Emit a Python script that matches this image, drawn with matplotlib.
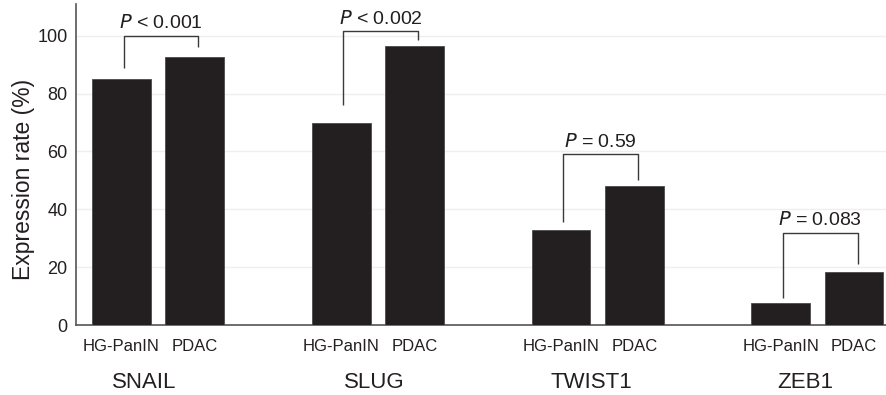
import matplotlib
matplotlib.use("Agg")
import matplotlib.pyplot as plt
import matplotlib.transforms as mtransforms

plt.rcParams['font.family'] = ['Liberation Sans', 'DejaVu Sans']

genes = ["SNAIL", "SLUG", "TWIST1", "ZEB1"]
groups = ["HG-PanIN", "PDAC"]
hg_values = [85, 70, 33, 7.5]
pdac_values = [92.5, 96.5, 48, 18.5]
p_labels = ["< 0.001", "< 0.002", "= 0.59", "= 0.083"]
bracket_tops = [100, 101.5, 59, 32]
bracket_left_bottoms = [89, 76, 35.5, 9.5]
bracket_right_bottoms = [96, 98.5, 50, 21]

# layout: horizontal offsets of the gene labels from their group centres (data units)
gene_label_shift = [-0.19, -0.05, -0.09, -0.17]

dark = "#231f20"
fig = plt.figure(figsize=(8.87, 3.95), dpi=100)
ax = fig.add_axes([0.0857, 0.177, 0.9143, 0.813])

spacing = 3.0
width = 0.8
hg_x = [i * spacing for i in range(len(genes))]
pdac_x = [i * spacing + 1 for i in range(len(genes))]

ax.bar(hg_x, hg_values, width=width, color=dark, edgecolor="#4a4a4a", linewidth=0.6, zorder=3)
ax.bar(pdac_x, pdac_values, width=width, color=dark, edgecolor="#4a4a4a", linewidth=0.6, zorder=3)

ax.set_xlim(-0.62, 10.45)
ax.set_ylim(0, 111)
ax.set_yticks([0, 20, 40, 60, 80, 100])
ax.yaxis.grid(True, color="#efefef", linewidth=1.0, zorder=0)
ax.set_axisbelow(True)

xt = []
xl = []
for i in range(len(genes)):
    xt += [hg_x[i], pdac_x[i]]
    xl += groups
ax.set_xticks(xt)
ax.set_xticklabels(xl, fontsize=12, color=dark)
ax.tick_params(axis='x', length=0, pad=10)
ax.tick_params(axis='y', length=0, pad=6, labelsize=13, labelcolor=dark)

for s in ["top", "right"]:
    ax.spines[s].set_visible(False)
for s in ["left", "bottom"]:
    ax.spines[s].set_color("#555555")
    ax.spines[s].set_linewidth(1.2)

ax.set_ylabel("Expression rate (%)", fontsize=16.5, color=dark)
ax.yaxis.set_label_coords(-0.051, 0.452)

trans = mtransforms.blended_transform_factory(ax.transData, ax.transAxes)
for i, g in enumerate(genes):
    ax.text((hg_x[i] + pdac_x[i]) / 2 + gene_label_shift[i], -0.178, g, transform=trans,
            ha="center", va="center", fontsize=16, color=dark)

for i in range(len(genes)):
    xl0 = hg_x[i] + 0.03
    xr0 = pdac_x[i] + 0.05
    top = bracket_tops[i]
    ax.plot([xl0, xl0, xr0, xr0],
            [bracket_left_bottoms[i], top, top, bracket_right_bottoms[i]],
            color="#3a3a3a", linewidth=1.0, zorder=4, solid_capstyle="butt")
    ax.text((xl0 + xr0) / 2, top + 1.3, r"$\it{P}$" + " " + p_labels[i],
            ha="center", va="bottom", fontsize=14, color=dark, zorder=5)

fig.savefig("out.png", dpi=100)
